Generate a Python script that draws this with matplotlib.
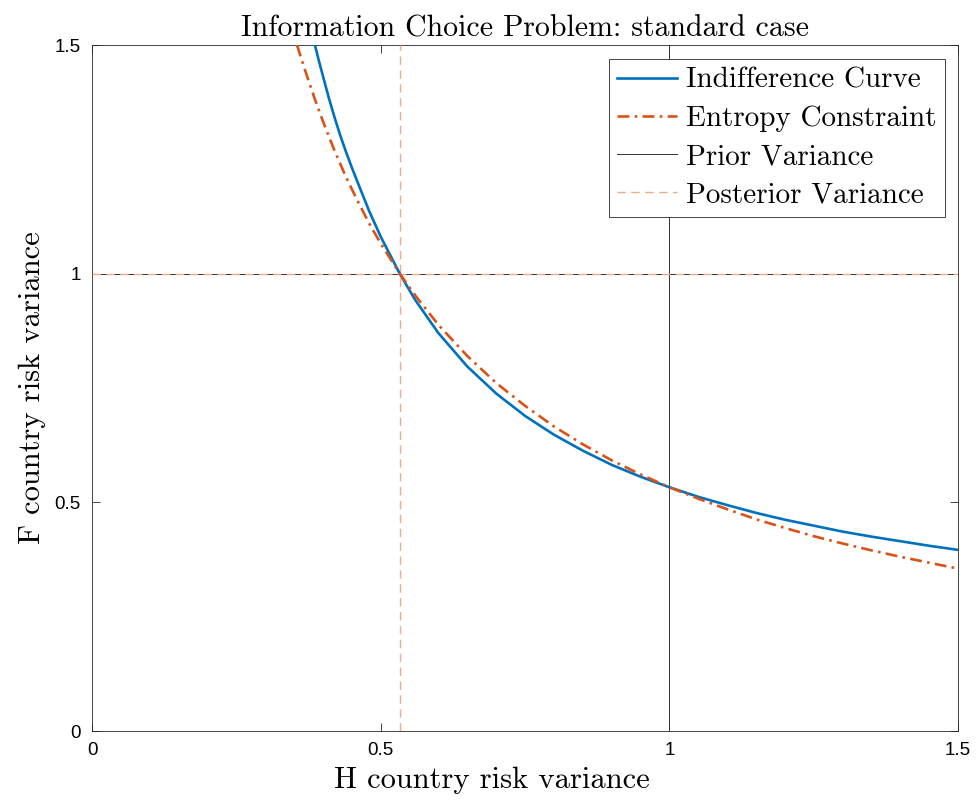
import matplotlib
matplotlib.use("Agg")
import matplotlib.pyplot as plt

# values
ic_x = [0.386, 0.393, 0.40, 0.41, 0.42, 0.43, 0.44, 0.45, 0.46, 0.48, 0.50, 0.533, 0.56,
        0.60, 0.65, 0.70, 0.75, 0.80, 0.85, 0.90, 0.95, 1.00, 1.05, 1.10, 1.15, 1.20,
        1.25, 1.30, 1.35, 1.40, 1.45, 1.50]
ic_y = [1.500, 1.465, 1.432, 1.385, 1.342, 1.302, 1.266, 1.232, 1.200, 1.137, 1.081, 1.000,
        0.942, 0.870, 0.797, 0.738, 0.689, 0.648, 0.613, 0.582, 0.556, 0.533, 0.512, 0.494,
        0.477, 0.462, 0.449, 0.436, 0.425, 0.415, 0.405, 0.396]

ec_x = [0.355, 0.37, 0.385, 0.40, 0.42, 0.44, 0.46, 0.48, 0.50, 0.533, 0.56, 0.60, 0.65,
        0.70, 0.75, 0.80, 0.85, 0.90, 0.95, 1.00, 1.05, 1.10, 1.15, 1.20, 1.25,
        1.30, 1.35, 1.40, 1.45, 1.50]
ec_y = [1.500, 1.441, 1.385, 1.333, 1.269, 1.211, 1.159, 1.110, 1.066, 1.000, 0.952, 0.888,
        0.820, 0.761, 0.711, 0.666, 0.627, 0.592, 0.561, 0.533, 0.508, 0.485, 0.463, 0.444,
        0.426, 0.410, 0.395, 0.381, 0.368, 0.355]

prior_h, prior_f = 1.0, 1.0
post_h, post_f = 0.533, 1.0

x_ticks = [0, 0.5, 1, 1.5]
y_ticks = [0, 0.5, 1, 1.5]
tick_labels = ["0", "0.5", "1", "1.5"]

BLUE = "#0072BD"
ORANGE = "#D95319"
POST = "#ECAC8C"
SERIF = "cmr10"

fig = plt.figure(figsize=(9.79, 8.0), dpi=100)
ax = fig.add_axes([0.094, 0.08625, 0.8846, 0.8575])

ax.plot(ic_x, ic_y, color=BLUE, lw=1.9, label="Indifference Curve", zorder=4)
ax.plot(ec_x, ec_y, color=ORANGE, lw=1.9, dashes=(4.5, 2, 1, 2),
        label="Entropy Constraint", zorder=5)
ax.axvline(prior_h, color="#333333", lw=0.7, label="Prior Variance", zorder=2)
ax.axhline(prior_f, color="#333333", lw=0.7, zorder=2)
ax.axvline(post_h, color=POST, lw=1.0, dashes=(6, 4), label="Posterior Variance", zorder=3)
ax.axhline(post_f, color=POST, lw=1.0, dashes=(6, 4), zorder=3)

ax.set_xlim(0, 1.5)
ax.set_ylim(0, 1.5)
ax.set_xticks(x_ticks)
ax.set_xticklabels(tick_labels)
ax.set_yticks(y_ticks)
ax.set_yticklabels(tick_labels)
ax.tick_params(direction="in", length=6, width=0.6, color="#262626",
               top=True, right=True, labelsize=13.5, pad=8)
for lab in ax.get_xticklabels() + ax.get_yticklabels():
    lab.set_family("Liberation Sans")
for sp in ax.spines.values():
    sp.set_linewidth(0.6)
    sp.set_color("#262626")

ax.set_title("Information Choice Problem: standard case", family=SERIF,
             fontsize=21.5, pad=6)
ax.set_xlabel("H country risk variance", family=SERIF, fontsize=22, labelpad=4)
ax.xaxis.set_label_coords(0.462, -0.052, transform=ax.transAxes)
ax.xaxis.label.set_verticalalignment("top")
ax.set_ylabel("F country risk variance", family=SERIF, fontsize=22, labelpad=6)

leg = ax.legend(loc="upper right", bbox_to_anchor=(0.985, 0.98), borderaxespad=0,
                prop={"family": SERIF, "size": 21}, fancybox=False, framealpha=1,
                edgecolor="#262626", handlelength=2.05, handletextpad=0.3,
                labelspacing=0.4, borderpad=0.3)
leg.get_frame().set_linewidth(0.6)

fig.savefig("out.png", dpi=100)
